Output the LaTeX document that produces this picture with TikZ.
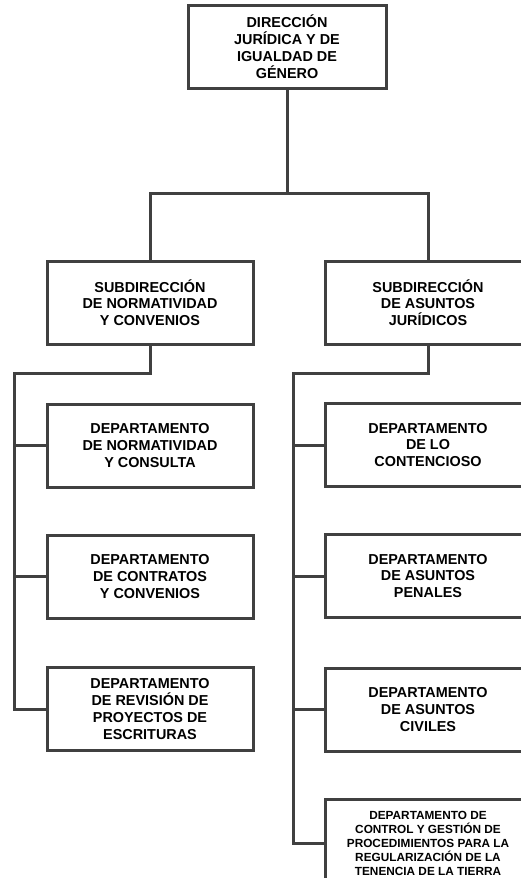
\documentclass[tikz,border=0pt]{standalone}
\usepackage{fontspec}
\setmainfont{Liberation Sans}
\definecolor{linegray}{RGB}{64,64,64}
\tikzset{
  box/.style={draw=linegray, line width=3pt, minimum width=206pt, minimum height=83pt,
    align=center, inner sep=0pt, text=black, font=\bfseries\fontsize{14.4}{16.8}\selectfont},
  smallbox/.style={box, minimum height=88pt, font=\bfseries\fontsize{11.8}{14}\selectfont},
  link/.style={draw=linegray, line width=3pt}
}
\begin{document}
\begin{tikzpicture}[x=1pt,y=-1pt]
\useasboundingbox (0,0) rectangle (520,878);
% nodes
\node[box, minimum width=198pt] (top) at (287,46.5) {DIRECCIÓN\\JURÍDICA Y DE\\IGUALDAD DE\\GÉNERO};
\node[box] (sub1) at (150,302.5) {SUBDIRECCIÓN\\DE NORMATIVIDAD\\Y CONVENIOS};
\node[box] (sub2) at (428,302.5) {SUBDIRECCIÓN\\DE ASUNTOS\\JURÍDICOS};
\node[box] (d1) at (150,445.5) {DEPARTAMENTO\\DE NORMATIVIDAD\\Y CONSULTA};
\node[box] (d2) at (150,576.5) {DEPARTAMENTO\\DE CONTRATOS\\Y CONVENIOS};
\node[box] (d3) at (150,709) {DEPARTAMENTO\\DE REVISIÓN DE\\PROYECTOS DE\\ESCRITURAS};
\node[box] (r1) at (428,445) {DEPARTAMENTO\\DE LO\\CONTENCIOSO};
\node[box] (r2) at (428,576) {DEPARTAMENTO\\DE ASUNTOS\\PENALES};
\node[box] (r3) at (428,709.5) {DEPARTAMENTO\\DE ASUNTOS\\CIVILES};
\node[smallbox] (r4) at (428,843) {DEPARTAMENTO DE\\CONTROL Y GESTIÓN DE\\PROCEDIMIENTOS PARA LA\\REGULARIZACIÓN DE LA\\TENENCIA DE LA TIERRA};
% junction coordinates
\coordinate (hb) at (0,193);
\coordinate (lb) at (14,373);
\coordinate (rb) at (293,373);
% connectors
\draw[link] (top.south) -- (top.south |- hb);
\draw[link] (sub1.north) |- (top.south |- hb) -| (sub2.north);
\draw[link] (sub1.south) |- (lb) -- (lb |- d3.west) -- (d3.west);
\draw[link] (lb |- d1.west) -- (d1.west);
\draw[link] (lb |- d2.west) -- (d2.west);
\draw[link] (sub2.south) |- (rb) -- (rb |- r4.west) -- (r4.west);
\draw[link] (rb |- r1.west) -- (r1.west);
\draw[link] (rb |- r2.west) -- (r2.west);
\draw[link] (rb |- r3.west) -- (r3.west);
\end{tikzpicture}
\end{document}
